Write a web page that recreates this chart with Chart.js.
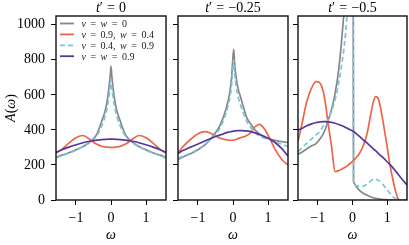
<!DOCTYPE html>
<html><head><meta charset="utf-8">
<script src="https://cdn.jsdelivr.net/npm/chart.js@4"></script>
<style>
html,body{margin:0;padding:0;background:#fff;}
#wrap{position:relative;width:409px;height:245px;overflow:hidden;background:#fff;}
canvas{position:absolute;top:0;}
</style></head><body>
<div id="wrap">
<canvas id="c1" width="170" height="245" style="left:0px"></canvas>
<canvas id="c2" width="122" height="245" style="left:170px"></canvas>
<canvas id="c3" width="119" height="245" style="left:290px"></canvas>
</div>
<script>
// ---------- data ----------
const seriesLabels = ['v = w = 0', 'v = 0.9, w = 0.4', 'v = 0.4, w = 0.9', 'v = w = 0.9'];
const panelTitles = ['t′ = 0', 't′ = −0.25', 't′ = −0.5'];
const yLabel = 'A(ω)';
const xLabel = 'ω';
const xTicks = [-1, 0, 1];
const yTicks = [0, 200, 400, 600, 800, 1000];

const omegaA = [-1.57,-1.4,-1.2,-1.0,-0.8,-0.65,-0.5,-0.4,-0.27,-0.18,-0.13,-0.08,-0.05,-0.02,0,0.02,0.05,0.08,0.13,0.18,0.27,0.4,0.5,0.65,0.8,1.0,1.2,1.4,1.57];
const grayA   = [244,256,270,286,305,324,350,378,447,500,543,605,657,715,762,715,657,605,543,500,447,378,350,324,305,286,270,256,244];
const orangeA = [268,290,325,355,368,352,330,318,307,303,302,301,300,300,300,300,300,301,302,303,307,318,330,352,368,355,325,290,268];
const blueA   = [240,253,268,284,305,322,345,368,420,470,505,560,600,650,690,650,600,560,505,470,420,368,345,322,305,284,268,253,240];
const purpleA = [272,287,302,315,327,334,339,342,345,346,346,347,347,347,347,347,347,347,346,346,345,342,339,334,327,315,302,287,272];

const omegaB = [-1.57,-1.4,-1.2,-1.0,-0.8,-0.65,-0.5,-0.4,-0.3,-0.2,-0.13,-0.08,-0.04,-0.01,0.02,0.05,0.09,0.14,0.22,0.3,0.38,0.5,0.63,0.76,0.9,1.06,1.2,1.4,1.57];
const grayB   = [232,248,265,287,315,345,385,415,460,520,575,630,700,790,860,770,700,640,585,530,476,435,400,375,358,347,340,333,328];
const orangeB = [270,310,348,378,390,382,366,355,348,344,342,341,341,341,342,343,346,350,356,360,366,383,418,432,405,347,290,230,200];
const blueB   = [238,252,270,290,318,345,375,400,440,495,545,595,655,740,800,720,650,595,540,495,455,415,385,365,352,345,333,318,305];
const purpleB = [267,285,303,320,337,350,362,369,376,383,387,389,391,392,393,394,395,396,396,395,394,390,383,374,362,347,328,292,251];

const omegaC = [-1.57,-1.45,-1.33,-1.2,-1.05,-0.95,-0.85,-0.78,-0.71,-0.6,-0.5,-0.4,-0.32,-0.25,-0.2,-0.15,-0.08,0,0.015,0.03,0.05,0.1,0.2,0.3,0.41,0.5,0.6,0.67,0.75,0.85,0.97,1.08,1.16,1.25,1.32,1.4,1.57];
const grayC   = [261,274,290,307,322,345,375,405,448,520,610,740,895,1060,1200,1350,1600,1900,2000,110,95,78,55,40,28,20,13,10,7,4,2,1,0,0,0,0,0];
const orangeC = [335,440,552,630,676,670,625,550,448,300,162,168,175,182,188,195,207,220,222,225,230,240,265,305,370,460,560,590,575,480,340,200,120,45,5,0,0];
const blueC   = [276,300,322,345,372,390,419,437,457,510,575,665,760,860,950,1080,1300,1500,1600,100,88,82,78,78,90,105,117,118,112,95,65,38,20,6,0,0,0];
const purpleC = [398,410,422,433,442,445,447,447,446,443,438,431,425,419,414,409,402,395,393,391,388,380,363,345,327,310,292,280,265,247,224,202,185,163,146,126,86];

// ---------- styles ----------
const COLORS = ['#878787', '#ec6546', '#78c4dc', '#57389a'];
const DASHES = [[], [], [5, 3], []];
const FONT = '"Liberation Serif", "DejaVu Serif", serif';

function drawMath(ctx, s, x, y, size, align, gap) {
  const chars = Array.from(s);
  const fontOf = ch => (/[A-Za-zω]/.test(ch) ? 'italic ' : '') + size + 'px ' + FONT;
  const widths = chars.map(ch => {
    if (ch === ' ') return gap * size;
    ctx.font = fontOf(ch);
    return ctx.measureText(ch).width;
  });
  const total = widths.reduce((a, b) => a + b, 0);
  let cx = align === 'center' ? x - total / 2 : x;
  ctx.textAlign = 'left';
  ctx.textBaseline = 'alphabetic';
  chars.forEach((ch, i) => {
    if (ch !== ' ') { ctx.font = fontOf(ch); ctx.fillText(ch, cx, y); }
    cx += widths[i];
  });
}

const decor = {
  id: 'decor',
  afterDatasetsDraw(chart, args, o) {
    const { ctx, chartArea: a } = chart;
    ctx.save();
    ctx.fillStyle = '#000';
    ctx.strokeStyle = '#111';
    ctx.lineWidth = 1.4;
    ctx.strokeRect(a.left, a.top, a.right - a.left, a.bottom - a.top);
    drawMath(ctx, o.title, (a.left + a.right) / 2, 12, 14, 'center', 0.3);
    drawMath(ctx, xLabel, (a.left + a.right) / 2, 239, 14, 'center', 0.3);
    if (o.ylabel) {
      ctx.save();
      ctx.translate(15, (a.top + a.bottom) / 2);
      ctx.rotate(-Math.PI / 2);
      drawMath(ctx, yLabel, 0, 0, 14, 'center', 0.3);
      ctx.restore();
    }
    if (o.legend) {
      seriesLabels.forEach((lab, i) => {
        const yc = 23.5 + i * 10.9;
        ctx.save();
        ctx.strokeStyle = COLORS[i];
        ctx.lineWidth = 1.8;
        ctx.setLineDash(DASHES[i]);
        ctx.beginPath(); ctx.moveTo(60, yc); ctx.lineTo(74, yc); ctx.stroke();
        ctx.restore();
        ctx.fillStyle = '#222';
        drawMath(ctx, lab, 81.5, yc + 3.3, 10, 'left', 0.45);
      });
    }
    ctx.restore();
  }
};

function makePanel(id, omega, series, opts) {
  const datasets = series.map((vals, i) => ({
    label: seriesLabels[i],
    data: omega.map((w, k) => ({ x: w, y: vals[k] })),
    borderColor: COLORS[i],
    borderWidth: 1.7,
    borderDash: DASHES[i],
    pointRadius: 0,
    fill: false,
    cubicInterpolationMode: 'monotone',
    order: 3 - i
  }));
  return new Chart(document.getElementById(id), {
    type: 'line',
    data: { datasets },
    plugins: [decor],
    options: {
      responsive: false,
      animation: false,
      events: [],
      layout: { padding: { top: 16, right: opts.padRight, bottom: 0, left: 0 } },
      plugins: { legend: { display: false }, tooltip: { enabled: false }, title: { display: false },
        decor: { title: opts.title, ylabel: opts.ylabel, legend: opts.legend } },
      scales: {
        x: {
          type: 'linear', min: -Math.PI / 2, max: Math.PI / 2,
          afterBuildTicks: s => { s.ticks = xTicks.map(v => ({ value: v })); },
          afterFit: s => { s.height = 45; },
          border: { display: false },
          grid: { drawOnChartArea: false, drawTicks: true, tickLength: 5, color: '#000', lineWidth: 1 },
          ticks: { font: { family: FONT, size: 14 }, color: '#000', padding: 5, maxRotation: 0,
            callback: v => String(v).replace('-', '−') }
        },
        y: {
          type: 'linear', min: 0, max: 1050,
          afterBuildTicks: s => { s.ticks = yTicks.map(v => ({ value: v })); },
          afterFit: s => { s.width = opts.yWidth; },
          border: { display: false },
          grid: { drawOnChartArea: false, drawTicks: true, tickLength: 5, color: '#000', lineWidth: 1 },
          ticks: { font: { family: FONT, size: 14 }, color: '#000', padding: 6,
            callback: v => opts.ylabel ? String(v) : '' }
        }
      }
    }
  });
}

makePanel('c1', omegaA, [grayA, orangeA, blueA, purpleA], { title: panelTitles[0], ylabel: true, legend: true, yWidth: 56, padRight: 4 });
makePanel('c2', omegaB, [grayB, orangeB, blueB, purpleB], { title: panelTitles[1], ylabel: false, legend: false, yWidth: 8, padRight: 4 });
makePanel('c3', omegaC, [grayC, orangeC, blueC, purpleC], { title: panelTitles[2], ylabel: false, legend: false, yWidth: 8, padRight: 2 });
</script>
</body></html>
